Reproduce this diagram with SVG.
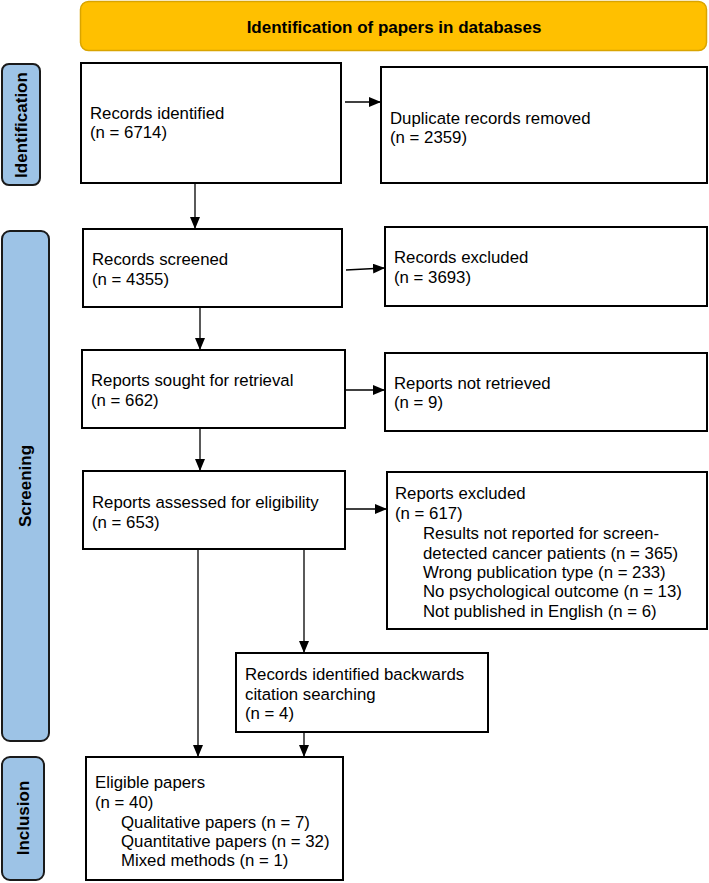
<svg xmlns="http://www.w3.org/2000/svg" width="709" height="883" viewBox="0 0 709 883">
<style>
  .box{fill:#fff;stroke:#000;stroke-width:2}
  .side{fill:#9DC3E6;stroke:#1a1a1a;stroke-width:2}
  .hdr{fill:#FFC000;stroke:#D9A400;stroke-width:1.5}
  .t{font-family:"Liberation Sans",Arial,sans-serif;font-size:16.8px;fill:#000}
  .b{font-family:"Liberation Sans",Arial,sans-serif;font-size:17px;font-weight:bold;fill:#000}
  .c{stroke:#000;stroke-width:1.3;fill:none}
</style>
<defs>
  <marker id="ah" markerWidth="12" markerHeight="10" refX="11" refY="5" orient="auto" markerUnits="userSpaceOnUse">
    <path d="M0,0 L12,5 L0,10 Z" fill="#000"/>
  </marker>
</defs>
<rect width="709" height="883" fill="#fff"/>

<g id="header">
  <rect class="hdr" x="80.5" y="1.5" width="626" height="49" rx="8"/>
  <text class="b" x="394" y="33" text-anchor="middle">Identification of papers in databases</text>
</g>

<g id="side-identification">
  <rect class="side" x="2" y="64" width="38" height="121" rx="7"/>
  <text class="b" transform="translate(27,125) rotate(-90)" text-anchor="middle">Identification</text>
</g>
<g id="side-screening">
  <rect class="side" x="2" y="231" width="47" height="510" rx="8"/>
  <text class="b" transform="translate(31,486) rotate(-90)" text-anchor="middle">Screening</text>
</g>
<g id="side-inclusion">
  <rect class="side" x="2" y="757" width="42" height="123" rx="8"/>
  <text class="b" transform="translate(29,818) rotate(-90)" text-anchor="middle">Inclusion</text>
</g>

<g id="records-identified">
  <rect class="box" x="81" y="63" width="260" height="120"/>
  <text class="t" x="90" y="119">Records identified</text>
  <text class="t" x="90" y="138">(n = 6714)</text>
</g>
<g id="duplicates">
  <rect class="box" x="381" y="67" width="326" height="116"/>
  <text class="t" x="390" y="124">Duplicate records removed</text>
  <text class="t" x="390" y="143">(n = 2359)</text>
</g>
<g id="records-screened">
  <rect class="box" x="83" y="229" width="259" height="78"/>
  <text class="t" x="92" y="265">Records screened</text>
  <text class="t" x="92" y="285">(n = 4355)</text>
</g>
<g id="records-excluded">
  <rect class="box" x="385" y="227" width="322" height="79"/>
  <text class="t" x="394" y="263">Records excluded</text>
  <text class="t" x="394" y="283">(n = 3693)</text>
</g>
<g id="reports-sought">
  <rect class="box" x="82" y="350" width="263" height="78"/>
  <text class="t" x="91" y="386">Reports sought for retrieval</text>
  <text class="t" x="91" y="406">(n = 662)</text>
</g>
<g id="reports-not-retrieved">
  <rect class="box" x="385" y="353" width="322" height="78"/>
  <text class="t" x="394" y="389">Reports not retrieved</text>
  <text class="t" x="394" y="408">(n = 9)</text>
</g>
<g id="reports-assessed">
  <rect class="box" x="83" y="471" width="262" height="78"/>
  <text class="t" x="92" y="508">Reports assessed for eligibility</text>
  <text class="t" x="92" y="528">(n = 653)</text>
</g>
<g id="reports-excluded">
  <rect class="box" x="387" y="472" width="320" height="157"/>
  <text class="t" x="395" y="499">Reports excluded</text>
  <text class="t" x="395" y="519">(n = 617)</text>
  <text class="t" x="423" y="539">Results not reported for screen-</text>
  <text class="t" x="423" y="559">detected cancer patients (n = 365)</text>
  <text class="t" x="423" y="578">Wrong publication type (n = 233)</text>
  <text class="t" x="423" y="597">No psychological outcome (n = 13)</text>
  <text class="t" x="423" y="617">Not published in English (n = 6)</text>
</g>
<g id="backwards-citation">
  <rect class="box" x="236" y="653" width="252" height="79"/>
  <text class="t" x="245" y="680">Records identified backwards</text>
  <text class="t" x="245" y="700">citation searching</text>
  <text class="t" x="245" y="719">(n = 4)</text>
</g>
<g id="eligible-papers">
  <rect class="box" x="86" y="757" width="257" height="123"/>
  <text class="t" x="95" y="788">Eligible papers</text>
  <text class="t" x="95" y="808">(n = 40)</text>
  <text class="t" x="121" y="828">Qualitative papers (n = 7)</text>
  <text class="t" x="121" y="847">Quantitative papers (n = 32)</text>
  <text class="t" x="121" y="866">Mixed methods (n = 1)</text>
</g>

<g id="connectors">
  <line class="c" x1="345" y1="102" x2="380" y2="102" marker-end="url(#ah)"/>
  <line class="c" x1="195" y1="183" x2="195" y2="228" marker-end="url(#ah)"/>
  <line class="c" x1="346" y1="270" x2="384" y2="268" marker-end="url(#ah)"/>
  <line class="c" x1="200" y1="307" x2="200" y2="349" marker-end="url(#ah)"/>
  <line class="c" x1="345" y1="390" x2="384" y2="390" marker-end="url(#ah)"/>
  <line class="c" x1="200" y1="428" x2="200" y2="470" marker-end="url(#ah)"/>
  <line class="c" x1="345" y1="509" x2="386" y2="509" marker-end="url(#ah)"/>
  <line class="c" x1="198" y1="549" x2="198" y2="756" marker-end="url(#ah)"/>
  <line class="c" x1="304" y1="549" x2="304" y2="652" marker-end="url(#ah)"/>
  <line class="c" x1="304" y1="732" x2="304" y2="756" marker-end="url(#ah)"/>
</g>
</svg>
